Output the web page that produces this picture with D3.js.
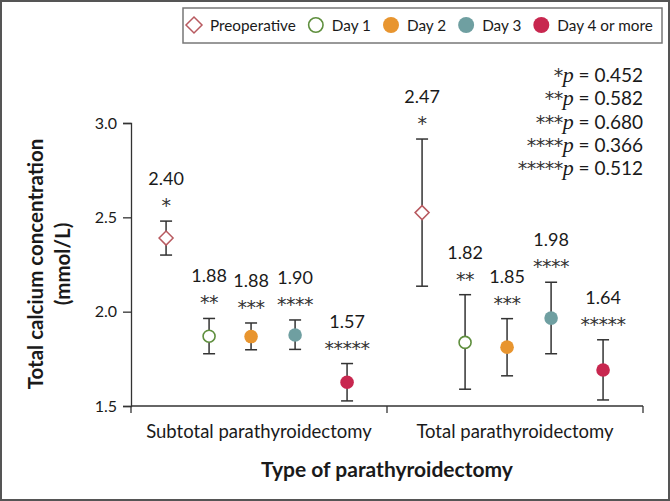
<!DOCTYPE html>
<html>
  <head>
    <meta charset="utf-8" />
    <title>Total calcium concentration by type of parathyroidectomy</title>
    <script src="https://d3js.org/d3.v7.min.js"></script>
    <style>
      body { margin: 0; background: #fff; }
      text { font-family: Lato, "Open Sans", sans-serif; fill: #1a1a1a; }
      .star { font-family: "DejaVu Sans", sans-serif; fill: #333; }
    </style>
  </head>
  <body>
    <svg width="670" height="501"></svg>
    <script>
      var groups = ["Subtotal parathyroidectomy", "Total parathyroidectomy"];
      var series = ["Preoperative", "Day 1", "Day 2", "Day 3", "Day 4 or more"];
      var stars = ["*", "**", "***", "****", "*****"];

      var subtotalMean = [2.39, 1.87, 1.868, 1.876, 1.626];
      var subtotalLow = [2.3, 1.777, 1.798, 1.8, 1.527];
      var subtotalHigh = [2.48, 1.964, 1.94, 1.956, 1.725];
      var subtotalLabels = ["2.40", "1.88", "1.88", "1.90", "1.57"];

      var totalMean = [2.525, 1.837, 1.812, 1.966, 1.691];
      var totalLow = [2.135, 1.589, 1.66, 1.777, 1.532];
      var totalHigh = [2.915, 2.09, 1.963, 2.156, 1.851];
      var totalLabels = ["2.47", "1.82", "1.85", "1.98", "1.64"];

      var pValues = ["0.452", "0.582", "0.680", "0.366", "0.512"];
      var yTicks = [1.5, 2.0, 2.5, 3.0];

      var colors = ["#b85a60", "#5f8f3e", "#e8952f", "#6f9fa1", "#c8274f"];
      var filled = [false, false, true, true, true];

      var svg = d3.select("svg"),
        width = +svg.attr("width"),
        height = +svg.attr("height");

      // outer frame
      svg.append("rect")
        .attr("x", 1).attr("y", 1)
        .attr("width", width - 2).attr("height", height - 2)
        .attr("fill", "#fff").attr("stroke", "#555").attr("stroke-width", 2);

      var x = d3.scaleBand().domain(groups).range([131, 643]);
      var inner = d3.scaleOrdinal().domain(series).range([-0.363, -0.195, -0.031, 0.141, 0.344]);
      var y = d3.scaleLinear().domain([1.5, 3.0]).range([406, 123]);

      // build rows from the arrays
      var rows = [];
      [[subtotalMean, subtotalLow, subtotalHigh, subtotalLabels], [totalMean, totalLow, totalHigh, totalLabels]]
        .forEach(function (g, gi) {
          series.forEach(function (s, i) {
            rows.push({
              group: groups[gi], series: s, i: i,
              mean: g[0][i], low: g[1][i], high: g[2][i], label: g[3][i]
            });
          });
        });
      function px(d) {
        return x(d.group) + x.bandwidth() / 2 + inner(d.series) * x.bandwidth();
      }

      // y axis
      var yAxis = svg.append("g")
        .attr("transform", "translate(131,0)")
        .call(d3.axisLeft(y).tickValues(yTicks).tickFormat(d3.format(".1f")).tickSize(8).tickPadding(6));
      yAxis.select(".domain").attr("stroke", "#333").attr("stroke-width", 1.3);
      yAxis.selectAll(".tick line").attr("stroke", "#333").attr("stroke-width", 1.3);
      yAxis.selectAll(".tick text").style("font-size", "16px").attr("fill", "#1a1a1a");

      // x axis
      var xAxis = svg.append("g").attr("transform", "translate(0,406)");
      xAxis.append("line")
        .attr("x1", 131).attr("x2", 643)
        .attr("stroke", "#333").attr("stroke-width", 1.3);
      xAxis.selectAll(".xt")
        .data([131, x(groups[1]), 643])
        .enter().append("line")
        .attr("x1", function (d) { return d; }).attr("x2", function (d) { return d; })
        .attr("y1", 0).attr("y2", 7)
        .attr("stroke", "#333").attr("stroke-width", 1.3);
      xAxis.selectAll(".xl")
        .data(groups)
        .enter().append("text")
        .attr("x", function (d) { return x(d) + x.bandwidth() / 2; })
        .attr("y", 32)
        .attr("text-anchor", "middle")
        .style("font-size", "18.5px")
        .text(function (d) { return d; });

      // axis titles
      svg.append("text")
        .attr("x", 387).attr("y", 477)
        .attr("text-anchor", "middle")
        .style("font-size", "21px").style("font-weight", "bold")
        .text("Type of parathyroidectomy");
      var yt = svg.append("text")
        .attr("transform", "translate(0,264) rotate(-90)")
        .attr("text-anchor", "middle")
        .style("font-size", "20.5px").style("font-weight", "bold");
      yt.append("tspan").attr("x", 0).attr("y", 43).text("Total calcium concentration");
      yt.append("tspan").attr("x", 0).attr("y", 70).text("(mmol/L)");

      // error bars
      var eb = svg.selectAll(".eb").data(rows).enter().append("g")
        .attr("stroke", "#333").attr("stroke-width", 1.5);
      eb.append("line")
        .attr("x1", px).attr("x2", px)
        .attr("y1", function (d) { return y(d.low); })
        .attr("y2", function (d) { return y(d.high); });
      eb.append("line")
        .attr("x1", function (d) { return px(d) - 6; }).attr("x2", function (d) { return px(d) + 6; })
        .attr("y1", function (d) { return y(d.low); }).attr("y2", function (d) { return y(d.low); });
      eb.append("line")
        .attr("x1", function (d) { return px(d) - 6; }).attr("x2", function (d) { return px(d) + 6; })
        .attr("y1", function (d) { return y(d.high); }).attr("y2", function (d) { return y(d.high); });

      function drawMarker(sel, i, cx, cy, r) {
        if (i === 0) {
          sel.append("path")
            .attr("d", "M" + cx + "," + (cy - r) + "L" + (cx + r) + "," + cy + "L" + cx + "," + (cy + r) + "L" + (cx - r) + "," + cy + "Z")
            .attr("fill", "#fff").attr("stroke", colors[0]).attr("stroke-width", 1.5);
        } else {
          sel.append("circle")
            .attr("cx", cx).attr("cy", cy).attr("r", filled[i] ? r : r - 0.8)
            .attr("fill", filled[i] ? colors[i] : "#fff")
            .attr("stroke", filled[i] ? "none" : colors[i])
            .attr("stroke-width", 1.6);
        }
      }

      var marks = svg.append("g");
      rows.forEach(function (d) {
        drawMarker(marks, d.i, px(d), y(d.mean), d.i === 0 ? 7 : 6.8);
      });

      // value labels and stars
      var lab = svg.selectAll(".lab").data(rows).enter().append("g");
      lab.append("text")
        .attr("x", px).attr("y", function (d) { return y(d.high) - 36; })
        .attr("text-anchor", "middle").style("font-size", "18px")
        .text(function (d) { return d.label; });
      lab.append("text")
        .attr("class", "star")
        .attr("x", px).attr("y", function (d) { return y(d.high) - 9; })
        .attr("text-anchor", "middle").style("font-size", "19px")
        .style("letter-spacing", "-0.5px")
        .text(function (d) { return stars[d.i]; });

      // p values
      var pv = svg.append("g");
      pValues.forEach(function (p, i) {
        var t = pv.append("text")
          .attr("x", 643).attr("y", 82 + i * 23.3)
          .attr("text-anchor", "end").style("font-size", "19px");
        t.append("tspan").attr("class", "star").style("font-size", "19px").style("letter-spacing", "-0.5px").text(stars[i]);
        t.append("tspan").style("font-family", "'Liberation Serif', serif").style("font-style", "italic").style("font-size", "22px").text("p");
        t.append("tspan").text(" = " + p);
      });

      // legend
      var lg = svg.append("g");
      lg.append("rect")
        .attr("x", 183).attr("y", 8).attr("width", 479).attr("height", 35)
        .attr("fill", "#fff").attr("stroke", "#777").attr("stroke-width", 1.5);
      var lx = 194;
      series.forEach(function (s, i) {
        drawMarker(lg, i, lx, 25, 8);
        var t = lg.append("text")
          .attr("x", lx + 16).attr("y", 30.5)
          .style("font-size", "15.3px").text(s);
        lx = lx + 16 + t.node().getComputedTextLength() + 20;
      });
    </script>
  </body>
</html>
